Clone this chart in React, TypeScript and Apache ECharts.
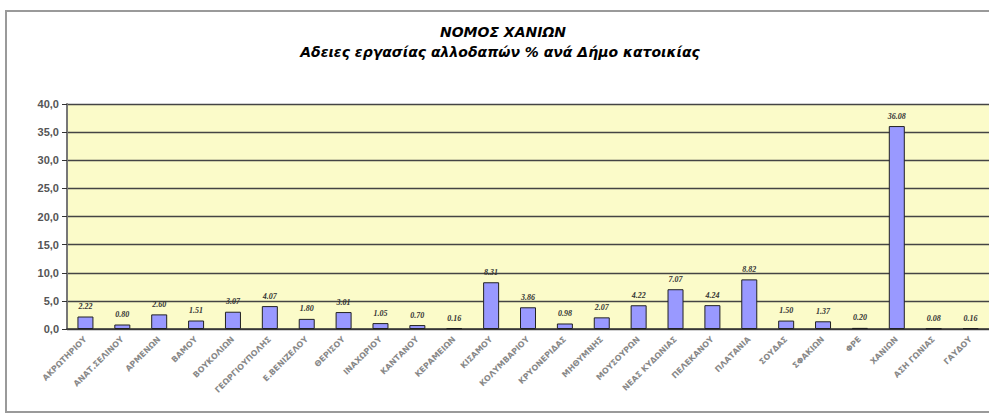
import React, { useEffect, useRef } from "react";
import * as echarts from "echarts";

const categories = [
  "ΑΚΡΩΤΗΡΙΟΥ", "ΑΝΑΤ.ΣΕΛΙΝΟΥ", "ΑΡΜΕΝΩΝ", "ΒΑΜΟΥ", "ΒΟΥΚΟΛΙΩΝ", "ΓΕΩΡΓΙΟΥΠΟΛΗΣ",
  "Ε.ΒΕΝΙΖΕΛΟΥ", "ΘΕΡΙΣΟΥ", "ΙΝΑΧΩΡΙΟΥ", "ΚΑΝΤΑΝΟΥ", "ΚΕΡΑΜΕΙΩΝ", "ΚΙΣΑΜΟΥ",
  "ΚΟΛΥΜΒΑΡΙΟΥ", "ΚΡΥΟΝΕΡΙΔΑΣ", "ΜΗΘΥΜΝΗΣ", "ΜΟΥΣΟΥΡΩΝ", "ΝΕΑΣ ΚΥΔΩΝΙΑΣ", "ΠΕΛΕΚΑΝΟΥ",
  "ΠΛΑΤΑΝΙΑ", "ΣΟΥΔΑΣ", "ΣΦΑΚΙΩΝ", "ΦΡΕ", "ΧΑΝΙΩΝ", "ΑΣΗ ΓΩΝΙΑΣ", "ΓΑΥΔΟΥ",
];

const values = [
  2.22, 0.8, 2.6, 1.51, 3.07, 4.07,
  1.8, 3.01, 1.05, 0.7, 0.16, 8.31,
  3.86, 0.98, 2.07, 4.22, 7.07, 4.24,
  8.82, 1.5, 1.37, 0.2, 36.08, 0.08, 0.16,
];

const titleLine1 = "ΝΟΜΟΣ ΧΑΝΙΩΝ";
const titleLine2 = "Αδειες εργασίας αλλοδαπών % ανά Δήμο κατοικίας";

export default function App() {
  const ref = useRef<HTMLDivElement>(null);
  useEffect(() => {
    if (!ref.current) return;
    const chart = echarts.init(ref.current, undefined, { renderer: "svg" });
    chart.setOption({
      animation: false,
      backgroundColor: "#ffffff",
      graphic: [
        {
          type: "rect",
          shape: { x: 6, y: 11, width: 1000, height: 401 },
          style: { fill: "none", stroke: "#9a9a9a", lineWidth: 2 },
          z: -1,
        },
        {
          type: "rect",
          shape: { x: 67, y: 104, width: 930, height: 225 },
          style: { fill: "#fbfbc9" },
          z: -1,
        },
        {
          type: "text",
          x: 503,
          y: 32,
          style: {
            text: titleLine1,
            fill: "#000",
            fontStyle: "italic",
            fontWeight: "bold",
            fontSize: 14,
            fontFamily: "'DejaVu Sans', sans-serif",
            align: "center",
            verticalAlign: "middle",
          },
        },
        {
          type: "text",
          x: 500,
          y: 52,
          style: {
            text: titleLine2,
            fill: "#000",
            fontStyle: "italic",
            fontWeight: "bold",
            fontSize: 14,
            fontFamily: "'DejaVu Sans', sans-serif",
            align: "center",
            verticalAlign: "middle",
          },
        },
      ],
      grid: { left: 67, right: -8, top: 104, bottom: 89, containLabel: false },
      xAxis: {
        type: "category",
        data: categories,
        axisLine: { lineStyle: { color: "#333", width: 1.5 } },
        axisTick: { alignWithLabel: false, length: 4, lineStyle: { color: "#333" } },
        axisLabel: {
          rotate: 45,
          interval: 0,
          fontSize: 8,
          fontWeight: "bold",
          color: "#888",
          margin: 9,
          fontFamily: "'DejaVu Sans', sans-serif",
        },
      },
      yAxis: {
        type: "value",
        min: 0,
        max: 40,
        interval: 5,
        axisLine: { show: true, lineStyle: { color: "#777", width: 2 } },
        axisTick: { show: true, length: 5, lineStyle: { color: "#333" } },
        splitLine: { lineStyle: { color: "#444", width: 1.3 } },
        axisLabel: {
          formatter: (v: number) => v.toFixed(1).replace(".", ","),
          fontSize: 11,
          color: "#555",
          fontWeight: "bold",
          margin: 8,
          fontFamily: "'Liberation Sans', Arial, sans-serif",
        },
      },
      series: [
        {
          type: "bar",
          data: values,
          barWidth: 16,
          itemStyle: { color: "#9999ff", borderColor: "#222", borderWidth: 1 },
          label: {
            show: true,
            position: "top",
            distance: 6,
            formatter: (p: any) => p.value.toFixed(2),
            fontSize: 8,
            fontStyle: "italic",
            fontWeight: "bold",
            color: "#333",
            fontFamily: "'Liberation Serif', serif",
          },
        },
      ],
    });
    return () => chart.dispose();
  }, []);
  return (
    <div
      ref={ref}
      style={{ position: "fixed", left: 0, top: 0, width: 989, height: 418 }}
    />
  );
}
